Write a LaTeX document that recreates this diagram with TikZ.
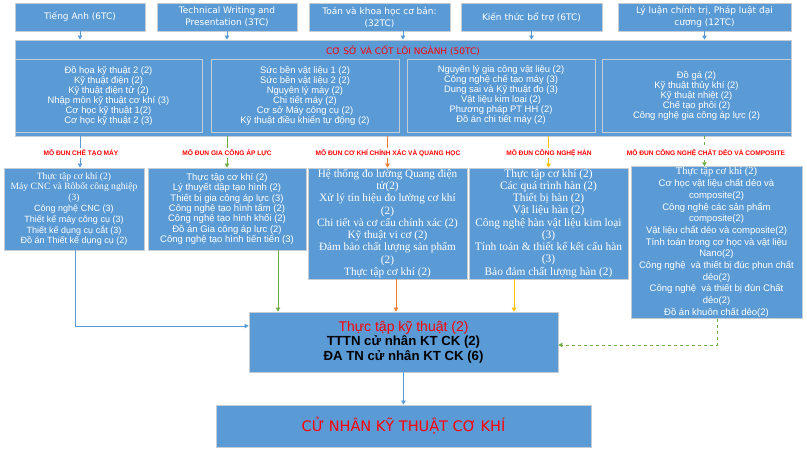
\documentclass[tikz,border=0pt]{standalone}
\usepackage{fontspec}
\setmainfont{Liberation Sans}
\newfontfamily\tms{Liberation Serif}
\newfontfamily\dvs{DejaVu Sans}
\usetikzlibrary{arrows.meta}
\definecolor{boxblue}{HTML}{5B9BD5}
\definecolor{rim}{HTML}{C5CCD4}
\definecolor{lgreen}{HTML}{70AD47}
\definecolor{lorange}{HTML}{ED7D31}
\definecolor{lyellow}{HTML}{FFC000}
\definecolor{lred}{HTML}{FF0000}
\begin{document}
\begin{tikzpicture}[x=1pt,y=-1pt,
	every node/.style={draw=rim,line width=0.8pt,fill=boxblue,text=white,align=center,inner sep=1pt},
	tbox/.style={minimum width=#1,minimum height=28pt,font=\dvs\fontsize{9}{12}\selectfont},
	cbox/.style={minimum width=#1,minimum height=73pt,font=\fontsize{9.4}{10}\selectfont},
	mbox/.style={minimum width=#1},
	lbl/.style={draw=none,fill=white,text=lred,inner sep=1.5pt,font=\bfseries\fontsize{6.6}{7}\selectfont},
	arr/.style={draw=#1,line width=0.8pt,-{Triangle[length=4pt,width=4.5pt]}},]
\useasboundingbox (0,0) rectangle (807,454);
\node[tbox=130pt] (t1) at (80,17) {Tiếng Anh (6TC)};
\node[tbox=140pt] (t2) at (227,17) {Technical Writing and\\Presentation (3TC)};
\node[tbox=141pt] (t3) at (379.5,17) {Toán và khoa học cơ bản:\\(32TC)};
\node[tbox=141pt] (t4) at (531.5,17) {Kiến thức bổ trợ (6TC)};
\node[tbox=173pt] (t5) at (704.5,17) {Lý luận chính trị, Pháp luật đại\\cương (12TC)};
\node[minimum width=776pt,minimum height=96pt] (core) at (403,88) {};
\node[draw=none,fill=none,text=lred,font=\dvs\fontsize{9}{10}\selectfont] (ttl) at (403,50) {CƠ SỞ VÀ CỐT LÕI NGÀNH (50TC)};
\node[cbox=187pt] (c1) at (108.5,95.5) {Đồ họa kỹ thuật 2 (2)\\Kỹ thuật điện (2)\\Kỹ thuật điện tử (2)\\Nhập môn kỹ thuật cơ khí (3)\\Cơ học kỹ thuật 1(2)\\Cơ học kỹ thuật 2 (3)};
\node[cbox=188pt] (c2) at (305,95.5) {Sức bền vật liệu 1 (2)\\Sức bền vật liệu 2 (2)\\Nguyên lý máy (2)\\Chi tiết máy (2)\\Cơ sở Máy công cụ (2)\\Kỹ thuật điều khiển tự động (2)};
\node[cbox=188pt] (c3) at (501,95.5) {Nguyên lý gia công vật liệu (2)\\Công nghệ chế tạo máy (3)\\Dung sai và Kỹ thuật đo (3)\\Vật liệu kim loại (2)\\Phương pháp PT HH (2)\\Đồ án chi tiết máy (2)};
\node[cbox=189pt] (c4) at (696.5,95.5) {Đồ gá (2)\\Kỹ thuật thủy khí (2)\\Kỹ thuật nhiệt (2)\\Chế tạo phôi (2)\\Công nghệ gia công áp lực (2)};
\node[mbox=140pt,minimum height=82pt,font=\fontsize{9}{10.8}\selectfont] (m1) at (74,209) {{\tms\fontsize{9.6}{10.8}\selectfont Thực tập cơ khí (2)}\\{\tms\fontsize{9.6}{10.8}\selectfont Máy CNC và Rôbốt công nghiệp}\\{\tms\fontsize{9.6}{10.8}\selectfont(3)}\\Công nghệ CNC (3)\\Thiết kế máy công cụ (3)\\Thiết kế dụng cụ cắt (3)\\Đồ án Thiết kế dụng cụ (2)};
\node[mbox=158pt,minimum height=82pt,font=\fontsize{9.5}{10.3}\selectfont] (m2) at (227,209) {Thực tập cơ khí (2)\\Lý thuyết dập tạo hình (2)\\Thiết bị gia công áp lực (3)\\Công nghệ tạo hình tấm (2)\\Công nghệ tạo hình khối (2)\\Đồ án Gia công áp lực (2)\\Công nghệ tạo hình tiến tiến (3)};
\node[mbox=159pt,minimum height=111pt,font=\tms\fontsize{11.2}{12.25}\selectfont] (m3) at (387.5,223.5) {Hệ thống đo lường Quang điện\\tử(2)\\Xử lý tín hiệu đo lường cơ khí\\(2)\\Chi tiết và cơ cấu chính xác (2)\\Kỹ thuật vi cơ (2)\\Đảm bảo chất lượng sản phẩm\\(2)\\Thực tập cơ khí (2)};
\node[mbox=159pt,minimum height=111pt,font=\tms\fontsize{11.4}{12.25}\selectfont] (m4) at (548.5,223.5) {Thực tập cơ khí (2)\\Các quá trình hàn (2)\\Thiết bị hàn (2)\\Vật liệu hàn (2)\\Công nghệ hàn vật liệu kim loại\\(3)\\Tính toán \& thiết kế kết cấu hàn\\(3)\\Bảo đảm chất lượng hàn (2)};
\node[mbox=171pt,minimum height=149pt,font=\fontsize{9.5}{11.7}\selectfont] (m5) at (716.5,242.5) {{\tms\fontsize{10.5}{11.7}\selectfont Thực tập cơ khí (2)}\\Cơ học vật liệu chất dẻo và\\composite(2)\\Công nghệ các sản phẩm\\composite(2)\\Vật liệu chất dẻo và composite(2)\\Tính toán trong cơ học và vật liệu\\Nano(2)\\Công nghệ \ và thiết bị đúc phun chất\\dẻo(2)\\Công nghệ \ và thiết bị đùn Chất\\dẻo(2)\\Đồ án khuôn chất dẻo(2)};
\node[minimum width=309pt,minimum height=60pt,text=black,font=\fontsize{13.2}{14.5}\selectfont] (b) at (403.5,342) {\textcolor{lred}{\fontsize{14}{14.5}\selectfont Thực tập kỹ thuật (2)}\\\textbf{TTTN cử nhân KT CK (2)}\\\textbf{ĐA TN cử nhân KT CK (6)}};
\node[minimum width=375pt,minimum height=42pt,text=lred,font=\dvs\fontsize{14.5}{16}\selectfont] (f) at (403.5,426) {CỬ NHÂN KỸ THUẬT CƠ KHÍ};
\draw[arr=boxblue] (t1) -- (t1 |- core.north);
\draw[arr=boxblue] (t2) -- (t2 |- core.north);
\draw[arr=boxblue] (t3.south -| core.north) -- (core.north);
\draw[arr=boxblue] (t4) -- (t4 |- core.north);
\draw[arr=boxblue] (t5) -- (t5 |- core.north);
\draw[arr=boxblue] (t1 |- core.south) -- (t1 |- m1.north);
\draw[arr=lgreen] (m2 |- core.south) -- (m2.north);
\draw[arr=lorange] (m3 |- core.south) -- (m3.north);
\draw[arr=lyellow] (m4 |- core.south) -- (m4.north);
\draw[arr=lgreen,dashed] (t5 |- core.south) -- (t5 |- m5.north);
\node[lbl] (l1) at (81,153) {MÔ ĐUN CHẾ TẠO MÁY};
\node[lbl] (l2) at (227,153) {MÔ ĐUN GIA CÔNG ÁP LỰC};
\node[lbl] (l3) at (388,153) {MÔ ĐUN CƠ KHÍ CHÍNH XÁC VÀ QUANG HỌC};
\node[lbl] (l4) at (549,153) {MÔ ĐUN CÔNG NGHỆ HÀN};
\node[lbl] (l5) at (706,153) {MÔ ĐUN CÔNG NGHỆ CHẤT DẺO VÀ COMPOSITE};
\coordinate (p1) at (75,326);
\coordinate (p2) at (278,0);
\coordinate (p3) at (396,0);
\coordinate (p4) at (514,0);
\coordinate (p5) at (717,345);
\draw[arr=boxblue] (m1.south -| p1) -- (p1) -- (b.west |- p1);
\draw[arr=lgreen] (m2.south -| p2) -- (b.north -| p2);
\draw[arr=lorange] (m3.south -| p3) -- (b.north -| p3);
\draw[arr=lyellow] (m4.south -| p4) -- (b.north -| p4);
\draw[arr=lgreen,dashed] (m5.south -| p5) -- (p5) -- (b.east |- p5);
\draw[arr=boxblue] (b) -- (f);
\end{tikzpicture}
\end{document}
